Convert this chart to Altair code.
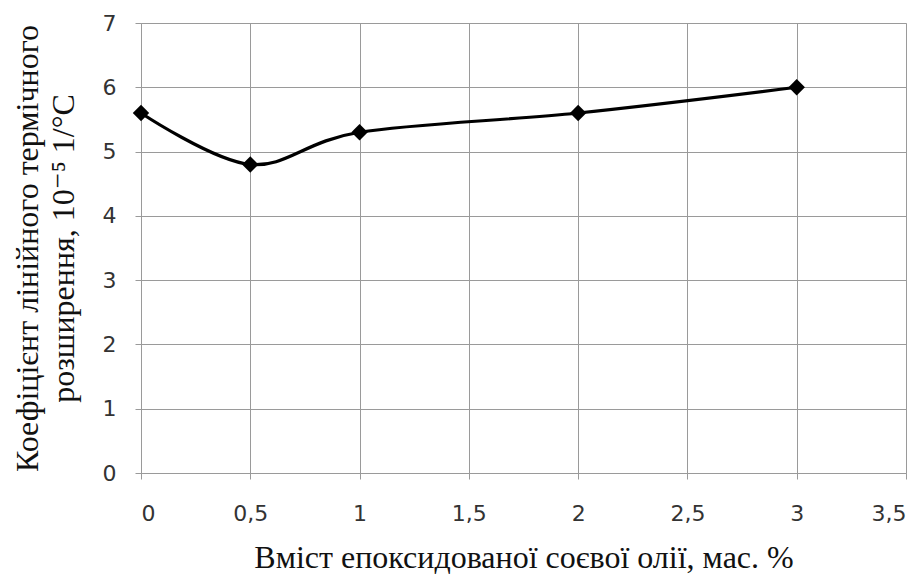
import altair as alt
import pandas as pd

x_vals = [0, 0.5, 1, 2, 3]
y_vals = [5.6, 4.8, 5.3, 5.6, 6.0]
x_ticks = [0, 0.5, 1, 1.5, 2, 2.5, 3, 3.5]
y_ticks = [0, 1, 2, 3, 4, 5, 6, 7]

df = pd.DataFrame({"x": x_vals, "y": y_vals})

SERIF = "'Liberation Serif', 'Times New Roman', 'DejaVu Serif', serif"

x_enc = alt.X(
    "x:Q",
    scale=alt.Scale(domain=[0, 3.5], nice=False, zero=False),
    axis=alt.Axis(
        values=x_ticks,
        labelExpr="replace(format(datum.value, '~g'), '.', ',')",
        title="Вміст епоксидованої соєвої олії, мас. %",
        titleFont=SERIF,
        titleFontSize=32,
        titleFontWeight="normal",
        titleColor="#111111",
        titlePadding=18,
        labelFont="DejaVu Sans",
        labelFontSize=22,
        labelColor="#333333",
        labelPadding=24,
        grid=True,
        gridColor="#9a9a9a",
        gridWidth=1,
        domainColor="#9a9a9a",
        tickColor="#9a9a9a",
        tickSize=6,
    ),
)
y_enc = alt.Y(
    "y:Q",
    scale=alt.Scale(domain=[0, 7], nice=False),
    axis=alt.Axis(
        values=y_ticks,
        format="d",
        title=["Коефіцієнт лінійного термічного", "розширення, 10⁻⁵ 1/°С"],
        titleFont=SERIF,
        titleFontSize=32,
        titleFontWeight="normal",
        titleColor="#111111",
        titlePadding=22,
        titleLineHeight=36,
        labelFont="DejaVu Sans",
        labelFontSize=22,
        labelColor="#333333",
        labelPadding=19,
        grid=True,
        gridColor="#9a9a9a",
        gridWidth=1,
        domainColor="#9a9a9a",
        tickColor="#9a9a9a",
        tickSize=6,
    ),
)

line = alt.Chart(df).mark_line(
    interpolate="cardinal", color="black", strokeWidth=3.2
).encode(x=x_enc, y=y_enc)

points = alt.Chart(df).mark_point(
    shape="diamond", filled=True, color="black", size=270, opacity=1
).encode(x="x:Q", y="y:Q")

chart = (
    (line + points)
    .properties(
        width=765,
        height=450,
        autosize=alt.AutoSizeParams(type="none"),
        padding={"left": 141, "top": 23, "right": 18, "bottom": 108},
    )
    .configure_view(stroke=None)
    .configure(background="white")
)

chart.save("out.html", embed_options={"renderer": "svg", "actions": False})
